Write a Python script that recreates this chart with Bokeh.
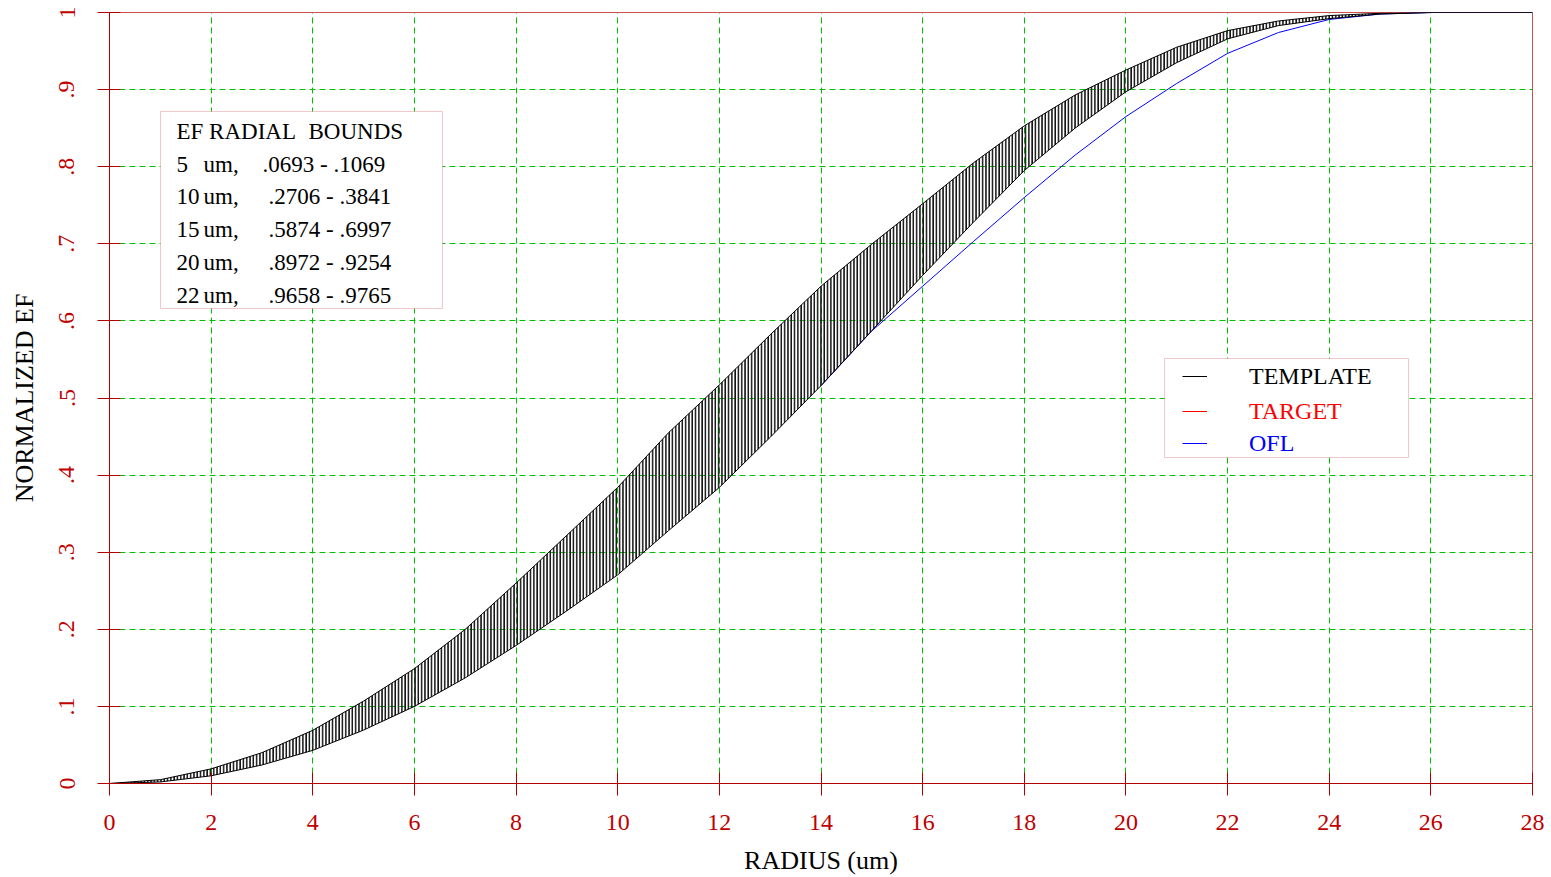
from bokeh.plotting import figure
from bokeh.models import FixedTicker, Legend, LegendItem, BoxAnnotation, Label, Range1d
from bokeh.embed import file_html
from bokeh.resources import INLINE

# ---------------- data ----------------
radius = [0, 1, 2, 3, 4, 5, 6, 7, 8, 9, 10, 11, 12, 13, 14, 15, 16, 17, 18, 19, 20,
          21, 22, 23, 24, 25, 26, 27, 28]
template_upper = [0.0, 0.005, 0.019, 0.040, 0.069, 0.1069, 0.149, 0.200, 0.260, 0.322,
                  0.3841, 0.455, 0.517, 0.582, 0.645, 0.6997, 0.752, 0.805, 0.853, 0.893,
                  0.9254, 0.955, 0.9765, 0.989, 0.996, 0.999, 1.0, 1.0, 1.0]
template_lower = [0.0, 0.002, 0.010, 0.024, 0.043, 0.0693, 0.100, 0.137, 0.179, 0.224,
                  0.2706, 0.328, 0.384, 0.449, 0.516, 0.5874, 0.659, 0.728, 0.795, 0.850,
                  0.8972, 0.935, 0.9658, 0.983, 0.992, 0.998, 1.0, 1.0, 1.0]
ofl_radius = [14, 15, 16, 17, 18, 19, 20, 21, 22, 23, 24, 25, 26, 27, 28]
ofl_values = [0.516, 0.587, 0.645, 0.703, 0.760, 0.815, 0.865, 0.908, 0.947, 0.974,
              0.991, 0.998, 1.0, 1.0, 1.0]
# TARGET curve is not visible in the chart (legend entry only)
target_radius = [float("nan")]
target_values = [float("nan")]

x_ticks = [0, 2, 4, 6, 8, 10, 12, 14, 16, 18, 20, 22, 24, 26, 28]
y_ticks = [0, 0.1, 0.2, 0.3, 0.4, 0.5, 0.6, 0.7, 0.8, 0.9, 1.0]
y_tick_labels = ["0", ".1", ".2", ".3", ".4", ".5", ".6", ".7", ".8", ".9", "1"]

box_rows = [("5", ".0693 - .1069"), ("10", ".2706 - .3841"), ("15", ".5874 - .6997"),
            ("20", ".8972 - .9254"), ("22", ".9658 - .9765")]

# ---------------- style ----------------
FONT = "Liberation Serif"
AXIS_RED = "#b00000"
LABEL_RED = "#c00000"
BOX_RED = "#cc5050"
GRID_GREEN = "#00c000"

p = figure(width=1551, height=877, output_backend="svg", toolbar_location=None,
           x_range=Range1d(0, 28), y_range=Range1d(0, 1),
           min_border_left=109, min_border_right=19, min_border_top=12, min_border_bottom=94)
p.background_fill_color = "white"
p.border_fill_color = "white"
p.outline_line_color = BOX_RED
p.outline_line_width = 1

# axes
for ax in (p.xaxis[0], p.yaxis[0]):
    ax.axis_line_color = AXIS_RED
    ax.major_tick_line_color = AXIS_RED
    ax.minor_tick_line_color = None
    ax.major_tick_out = 12
    ax.major_tick_in = 11
    ax.major_label_text_font = FONT
    ax.major_label_text_font_size = "24px"
    ax.major_label_text_color = LABEL_RED
    ax.axis_label_text_font = FONT
    ax.axis_label_text_font_size = "26px"
    ax.axis_label_text_font_style = "normal"
    ax.axis_label_text_color = "black"

p.xaxis.ticker = FixedTicker(ticks=x_ticks)
p.xaxis.axis_label = "RADIUS (um)"
p.xaxis.major_label_standoff = 19
p.xaxis.axis_label_standoff = 13

p.yaxis.ticker = FixedTicker(ticks=y_ticks)
p.yaxis.major_label_overrides = {t: s for t, s in zip(y_ticks, y_tick_labels)}
p.yaxis.major_label_orientation = "vertical"
p.yaxis.axis_label = "NORMALIZED EF"
p.yaxis.major_label_standoff = 23
p.yaxis.axis_label_standoff = 18

# grid
p.xgrid.ticker = FixedTicker(ticks=x_ticks[1:-1])
p.ygrid.ticker = FixedTicker(ticks=y_ticks[1:-1])
for g in (p.xgrid[0], p.ygrid[0]):
    g.grid_line_color = GRID_GREEN
    g.grid_line_dash = "6 4"
    g.grid_line_width = 1

# ---------------- glyphs ----------------
r_ofl = p.line(ofl_radius, ofl_values, line_color="#0000ff", line_width=1)
r_target = p.line(target_radius, target_values, line_color="#ff0000", line_width=1)
p.varea(x=radius, y1=template_lower, y2=template_upper, fill_color=None, fill_alpha=0,
        hatch_pattern="vertical_line", hatch_color="#111111", hatch_scale=3.3, hatch_weight=1.7)
r_upper = p.line(radius, template_upper, line_color="black", line_width=1)
p.line(radius, template_lower, line_color="black", line_width=1)

# ---------------- text box (frame screen coordinates) ----------------
p.add_layout(BoxAnnotation(left=51, right=333, top=672, bottom=475,
                           left_units="screen", right_units="screen",
                           top_units="screen", bottom_units="screen",
                           fill_color="white", fill_alpha=1,
                           line_color=BOX_RED, line_width=1, level="annotation"))
row_y = [652, 619, 587, 554, 521, 488]
def add_text(x, y, s, color="black"):
    p.add_layout(Label(x=x, y=y, x_units="screen", y_units="screen", text=s,
                       text_font=FONT, text_font_size="23px", text_color=color,
                       text_baseline="middle", text_align="left"))
add_text(67, row_y[0], "EF RADIAL")
add_text(199, row_y[0], "BOUNDS")
for i, (rad, bounds) in enumerate(box_rows):
    y = row_y[i + 1]
    add_text(67, y, rad)
    add_text(94, y, "um,")
    add_text(153 if i == 0 else 159, y, bounds)

# ---------------- legend ----------------
p.add_layout(BoxAnnotation(left=1055, right=1299, top=425, bottom=326,
                           left_units="screen", right_units="screen",
                           top_units="screen", bottom_units="screen",
                           fill_color="white", fill_alpha=1,
                           line_color=BOX_RED, line_width=1, level="annotation"))
legend_specs = [("TEMPLATE", r_upper, "black", 392),
                ("TARGET", r_target, "#ff0000", 357),
                ("OFL", r_ofl, "#0000ff", 325)]
for label, rend, color, ybot in legend_specs:
    lg = Legend(items=[LegendItem(label=label, renderers=[rend])],
                location=(1073, ybot), padding=0, margin=0, spacing=0,
                glyph_width=25, glyph_height=30, label_height=30, label_standoff=42,
                border_line_color=None, background_fill_alpha=0,
                label_text_font=FONT, label_text_font_size="24px",
                label_text_color=color)
    p.add_layout(lg)

open("out.html", "w").write(file_html(p, INLINE))
